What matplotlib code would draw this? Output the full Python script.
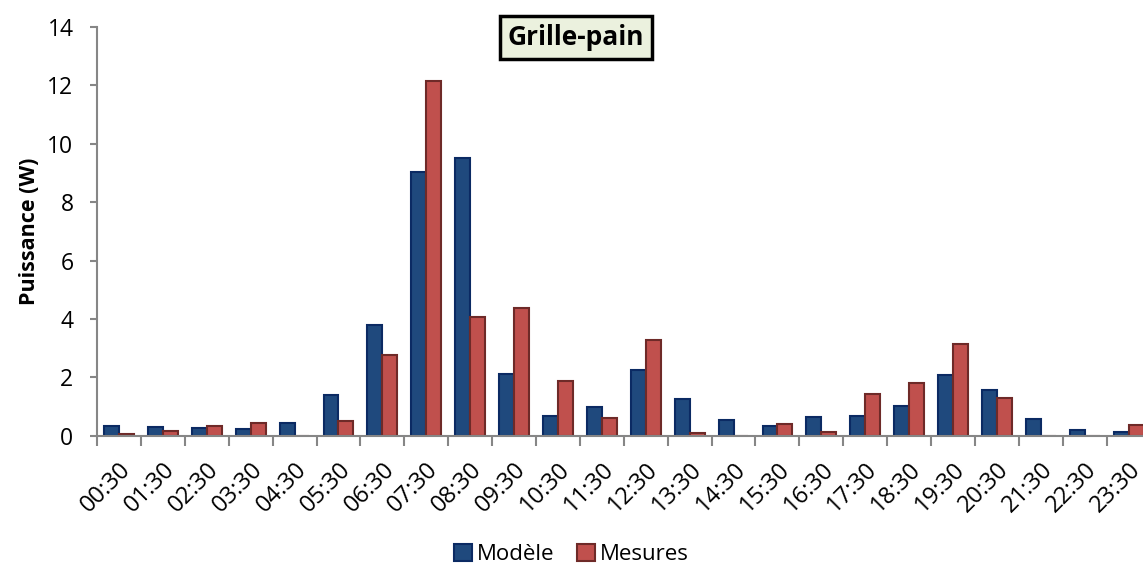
import matplotlib.pyplot as plt
import numpy as np

plt.rcParams["font.family"] = ["Open Sans", "DejaVu Sans"]

heures = [
    "00:30", "01:30", "02:30", "03:30", "04:30", "05:30", "06:30", "07:30",
    "08:30", "09:30", "10:30", "11:30", "12:30", "13:30", "14:30", "15:30",
    "16:30", "17:30", "18:30", "19:30", "20:30", "21:30", "22:30", "23:30",
]
modele = [0.34, 0.30, 0.25, 0.24, 0.42, 1.38, 3.80, 9.02, 9.51, 2.11, 0.68, 0.97,
          2.25, 1.27, 0.54, 0.32, 0.63, 0.67, 1.02, 2.07, 1.58, 0.58, 0.19, 0.14]
mesures = [0.05, 0.16, 0.32, 0.43, 0.0, 0.51, 2.77, 12.14, 4.08, 4.38, 1.86, 0.62,
           3.28, 0.09, 0.0, 0.39, 0.14, 1.43, 1.82, 3.15, 1.28, 0.0, 0.0, 0.37]

fig = plt.figure(figsize=(11.43, 5.72), dpi=100)
ax = fig.add_axes([0.0849, 0.2383, 0.9217, 0.7145])

x = np.arange(len(heures))
w = 0.34
ax.bar(x - w / 2, modele, w, color="#1F497D", edgecolor="#0B2A63", linewidth=1.5, label="Modèle")
ax.bar(x + w / 2, mesures, w, color="#C0504D", edgecolor="#6E2A28", linewidth=1.5, label="Mesures")

ax.set_xlim(-0.5, len(heures) - 0.5)
ax.set_ylim(0, 14)
ax.set_yticks(np.arange(0, 15, 2))

# ticks at boundaries, labels at centres
ax.set_xticks(np.arange(-0.5, len(heures), 1))
ax.set_xticklabels([])
ax.set_xticks(x, minor=True)
ax.set_xticklabels(heures, minor=True, rotation=45, ha="right", rotation_mode="anchor", fontsize=17)
ax.tick_params(axis="x", which="minor", length=0, pad=16)
ax.tick_params(axis="x", which="major", length=7, width=1.5, color="#868686", direction="out")
ax.tick_params(axis="y", length=5, width=1.5, color="#868686", labelsize=16.5, pad=12)

for s in ["top", "right"]:
    ax.spines[s].set_visible(False)
for s in ["left", "bottom"]:
    ax.spines[s].set_color("#868686")
    ax.spines[s].set_linewidth(1.5)

ax.set_ylabel("Puissance (W)", fontsize=15.5, fontweight="bold", labelpad=5)

fig.text(0.504, 0.934, "Grille-pain", fontsize=19, fontweight="bold", ha="center", va="center",
         bbox=dict(boxstyle="square,pad=0.3", facecolor="#EBF1DE", edgecolor="black", linewidth=2.5))

fig.legend(loc="center", bbox_to_anchor=(0.5, 0.03), ncol=2, frameon=False, fontsize=16,
           handlelength=0.8, handleheight=0.8, handletextpad=0.25, columnspacing=1.0)

fig.savefig("out.png", dpi=100)
